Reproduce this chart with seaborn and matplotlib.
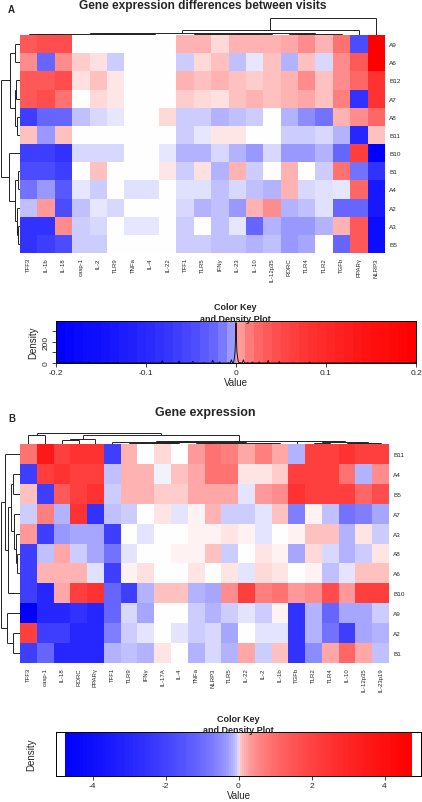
import numpy as np
import pandas as pd
import matplotlib
matplotlib.use("Agg")
import matplotlib.pyplot as plt
from matplotlib.colors import FuncNorm
from matplotlib.collections import LineCollection
import seaborn as sns

# ---------------- data ----------------
genes_a = ["TFF3", "IL-1b", "IL-18", "casp-1", "IL-2", "TLR9", "TNFa", "IL-4", "IL-22",
           "TFF1", "TLR5", "IFNγ", "IL-23", "IL-10", "IL-12p35", "RORC", "TLR4", "TLR2",
           "TGFb", "PPARγ", "NLRP3"]
samples_a = ["A9", "A6", "B12", "A7", "A8", "B11", "B10", "B1", "A4", "A2", "A3", "B5"]

row_a9 = [0.0357, 0.048, 0.048, 0, 0, 0, 0, 0, 0, 0.00162, 0.00162, 0.0001, 0.00162, 0.00162, 0.00162, 0.003, 0.0082, 0.00162, 0.0183, -0.048, 0.2]
row_a6 = [0.0082, -0.0259, 0.0082, 0.00032, 0.00004, -0.00032, 0, 0, 0, -0.00032, 0.0001, 0.00078, -0.00078, -0.00002, 0.00078, -0.00162, 0.00078, -0.0001, 0.0082, 0.0357, 0.2]
row_b12 = [0.0357, 0.0357, 0.048, 0.00004, 0.00078, 0.00002, 0, 0, 0, 0.00162, 0.00078, 0.00162, 0.00078, 0.00032, 0.00078, 0.00162, 0.0082, 0.00078, 0.0082, 0.0259, 0.0819]
row_a7 = [0.0357, 0.048, 0.0183, 0, 0.0001, 0.00002, 0, 0, 0, 0.00032, 0.0001, 0.00004, 0.00078, 0.00162, 0.00078, 0.00162, 0.003, 0.00078, 0.0125, -0.0819, 0.0819]
row_a8 = [-0.0633, -0.0259, -0.0259, -0.00078, -0.0001, -0.00002, 0, 0, 0.0001, -0.00032, -0.00032, -0.00162, -0.00078, -0.00032, 0, -0.00162, -0.0082, -0.0183, 0.00162, 0.0082, 0.0259]
row_b11 = [0.00078, -0.00512, 0.00078, 0, 0, 0, 0, 0, 0, -0.00032, -0.00002, 0.00002, 0.00002, 0, 0, -0.00032, -0.00032, -0.0001, -0.00162, -0.1044, 0.00078]
row_b10 = [-0.0633, -0.0633, -0.0819, -0.0001, -0.0001, -0.0001, 0, 0, -0.00002, -0.00162, -0.00162, -0.0001, -0.00162, -0.00512, -0.0001, -0.00512, -0.00512, -0.00162, -0.0259, 0.0633, -0.2]
row_b1 = [-0.048, -0.048, -0.0633, 0, 0.00078, 0, 0, 0, 0.00002, -0.00032, 0.00004, -0.00162, 0.00162, -0.00032, 0, 0.00162, 0, -0.00032, 0.0183, -0.0183, -0.0819]
row_a4 = [-0.0183, -0.00512, -0.0357, -0.00002, -0.00032, 0, -0.00004, -0.00004, 0, -0.00004, -0.00004, -0.00078, -0.0001, -0.00078, -0.00162, 0.00162, -0.0001, -0.00004, -0.00002, 0.0259, -0.1312]
row_a2 = [-0.00078, 0.00512, -0.048, -0.00078, -0.00002, -0.0001, 0, 0, 0, -0.0001, -0.00162, -0.00078, -0.00512, 0.00162, 0.0082, -0.00162, -0.00078, -0.00004, -0.0259, -0.0259, -0.1312]
row_a3 = [-0.0819, -0.0819, 0.0082, -0.00032, -0.0001, 0, -0.00002, -0.00002, 0, -0.00032, 0, -0.00078, -0.00002, -0.0259, -0.00162, -0.00512, -0.00512, -0.00162, 0.00162, 0.0357, -0.1629]
row_b5 = [-0.0819, -0.0633, -0.048, -0.00032, -0.00032, 0, 0, 0, 0, -0.00032, -0.00032, -0.00078, -0.00078, -0.00162, -0.00078, -0.00512, -0.003, 0, -0.0259, 0.0357, -0.1629]

genes_b = ["TFF3", "casp-1", "IL-18", "RORC", "PPARγ", "TFF1", "TLR9", "IFNγ", "IL-17A", "IL-4",
           "TNFa", "NLRP3", "TLR5", "IL-22", "IL-2", "IL-1b", "TGFb", "TLR2", "TLR4", "IL-10",
           "IL-12p35", "IL-23p19"]
samples_b = ["B11", "A4", "B5", "A7", "A3", "A8", "A6", "B10", "A9", "A2", "B1"]

rowb_b11 = [0.861, 3.515, 2.088, 2.511, 2.511, -2.088, 0.152, 0, 0.021, 0, 0.347, 0.861, 0.656, 0.237, 0.656, 0.237, -0.152, 2.088, 2.088, 2.511, 2.088, 2.088]
rowb_a4 = [-2.088, 2.088, 2.511, 2.088, 2.088, -0.090, 0.152, 0.152, -0.001, 0.090, 0.237, 0.861, 0.861, 0.007, 0.007, 0.048, 2.088, 2.088, 2.088, 0.861, -0.152, 0.485]
rowb_b5 = [0.090, -2.088, 1.387, 2.088, 2.511, -0.048, 0.152, 0.152, 0.048, 0.048, 0.237, 0.237, 0.237, -0.007, 0.347, 0.485, 2.511, 2.088, 2.088, 2.088, 1.104, 1.715]
rowb_a7 = [-0.048, 0.656, -0.152, 2.511, -2.511, -0.090, -0.048, 0, 0.007, -0.007, 0.001, 0.152, -0.048, -0.048, -0.007, 0.090, -0.656, 0.001, -0.090, -0.861, -0.656, -0.237]
rowb_a3 = [0.347, -2.088, -0.347, -0.237, -0.237, -2.088, 0, -0.007, 0, 0, 0.001, 0.001, 0.007, 0.001, -0.007, 0, 0.001, 0.090, 0.090, -0.152, 0.007, -0.048]
rowb_a8 = [-2.088, -0.090, 0.237, -0.048, -0.237, -0.861, -0.007, 0, 0, 0.001, 0.001, 0.090, -0.048, 0, 0.007, 0.001, -0.237, 0.021, -0.021, -0.152, -0.048, 0.007]
rowb_a6 = [-2.088, 0.152, 0.152, 0.152, -0.011, -2.088, 0.001, 0.011, 0, 0, 0.007, 0, 0.007, -0.007, 0.021, 0.007, 0, 0.001, -0.090, -0.007, 0.090, 0.090]
rowb_b10 = [-2.088, -2.986, 0.237, 2.088, 2.511, -1.104, -2.088, -0.152, 0.090, 0.090, -0.152, -0.237, 0.485, 2.088, 0.656, 0.861, 0.347, 0.485, 1.715, 0.347, 2.088, 2.088]
rowb_a9 = [-4.75, -2.986, -2.986, -2.511, -2.986, -1.104, -0.021, -0.237, 0, 0, -0.048, -0.152, -0.048, -0.007, -0.048, 0.001, -2.511, -0.152, -1.104, -0.237, -0.237, -0.048]
rowb_a2 = [2.088, -2.088, -2.088, -2.986, -2.986, -0.656, -0.048, -0.007, 0, -0.007, -0.048, -0.021, -0.237, 0, -0.007, -0.007, -2.511, -0.152, -0.861, -2.088, -0.237, -0.152]
rowb_b1 = [-2.088, -1.104, -2.986, -2.986, -2.986, -0.152, -0.090, -0.152, 0.007, 0, -0.152, -0.021, -0.152, 0.237, -0.048, 0.090, -2.511, -0.485, 0.237, 1.104, 0.237, -0.090]

# dendrogram merges: (child_a, child_b, height); leaves are 0..n-1 in display order
link_rows_a = [(0, 1, 5), (2, 3, 4), (4, 5, 3.5), (13, 14, 5.5), (12, 15, 10),
               (7, 8, 2.5), (10, 11, 2.5), (9, 18, 3.5), (17, 19, 5), (6, 20, 11), (16, 21, 19)]
link_cols_a = [(0, 1, 0.8), (21, 2, 1.1), (3, 4, 0.3), (23, 5, 0.5), (6, 7, 0.2), (25, 8, 0.4),
               (24, 26, 0.7), (22, 27, 1.5), (9, 10, 0.5), (29, 11, 0.8), (12, 13, 0.6),
               (31, 14, 0.9), (30, 32, 1.2), (15, 16, 0.7), (17, 18, 0.9), (34, 35, 1.3),
               (33, 36, 1.7), (28, 37, 2.0), (38, 19, 5.0), (39, 20, 16.7)]
link_rows_b = [(1, 2, 7), (5, 6, 3), (4, 12, 4.5), (3, 13, 6), (11, 14, 9), (15, 7, 12),
               (0, 16, 15), (9, 10, 7), (8, 18, 13), (17, 19, 19)]
link_cols_b = [(0, 1, 9.3), (2, 3, 4.0), (23, 4, 5.0), (6, 7, 1.0), (8, 9, 0.6), (25, 26, 1.3),
               (10, 11, 0.8), (12, 13, 0.9), (28, 29, 1.2), (14, 15, 1.0), (30, 31, 1.5),
               (27, 32, 1.8), (5, 33, 2.5), (17, 18, 1.3), (19, 20, 1.0), (36, 21, 1.5),
               (35, 37, 2.0), (16, 38, 3.0), (34, 39, 3.5), (24, 40, 9.0), (22, 41, 11.0)]

# ---------------- setup ----------------
sns.set_theme(style="white")
plt.rcParams['font.family'] = ['Liberation Sans', 'DejaVu Sans']

W, H = 422, 803
fig = plt.figure(figsize=(W / 100, H / 100), dpi=100)


def add_ax(l, t, w, h):
    return fig.add_axes([l / W, 1 - (t + h) / H, w / W, h / H])


def make_norm(lim, p):
    f = lambda x: np.sign(x) * np.abs(x) ** p
    finv = lambda y: np.sign(y) * np.abs(y) ** (1.0 / p)
    return FuncNorm((f, finv), vmin=-lim, vmax=lim)


def dendro_segments(n, links, horizontal):
    pos = {i: i + 0.5 for i in range(n)}
    ht = {i: 0.0 for i in range(n)}
    segs = []
    for k, (a, b, h) in enumerate(links):
        node = n + k
        s = [((pos[a], ht[a]), (pos[a], h)),
             ((pos[b], ht[b]), (pos[b], h)),
             ((pos[a], h), (pos[b], h))]
        if not horizontal:
            s = [((p0[1], p0[0]), (p1[1], p1[0])) for p0, p1 in s]
        segs.extend(s)
        pos[node] = (pos[a] + pos[b]) / 2
        ht[node] = h
    return segs


def draw_col_dendro(ax, n, links, hpx):
    ax.add_collection(LineCollection(dendro_segments(n, links, True), colors="#222222", linewidths=0.7))
    ax.set_xlim(0, n)
    ax.set_ylim(0, hpx)
    ax.axis("off")


def draw_row_dendro(ax, n, links, wpx):
    ax.add_collection(LineCollection(dendro_segments(n, links, False), colors="#222222", linewidths=0.7))
    ax.set_ylim(n, 0)
    ax.set_xlim(wpx, 0)
    ax.axis("off")


def draw_heat(ax, df, norm):
    sns.heatmap(df, ax=ax, cmap="bwr", norm=norm, cbar=False,
                xticklabels=True, yticklabels=True, linewidths=0)
    ax.yaxis.tick_right()
    ax.tick_params(axis="both", length=0)
    ax.tick_params(axis="y", pad=3, labelsize=4.6, labelrotation=0)
    ax.tick_params(axis="x", pad=3, labelsize=4.3, labelrotation=90)
    ax.set_xlabel("")
    ax.set_ylabel("")


# ---------------- panel A ----------------
mat_a = pd.DataFrame([row_a9, row_a6, row_b12, row_a7, row_a8, row_b11, row_b10, row_b1,
                      row_a4, row_a2, row_a3, row_b5], index=samples_a, columns=genes_a)
norm_a = make_norm(0.2, 0.25)

ax_ha = add_ax(20, 36, 365, 218)
draw_heat(ax_ha, mat_a, norm_a)
draw_row_dendro(add_ax(0, 36, 20, 218), len(samples_a), link_rows_a, 20)
draw_col_dendro(add_ax(20, 18, 365, 18), len(genes_a), link_cols_a, 18)

fig.text(8 / W, 1 - 10 / H, "A", fontsize=7, fontweight="bold", ha="left", va="center")
fig.text(203 / W, 1 - 6 / H, "Gene expression differences between visits", fontsize=8.6,
         fontweight="bold", ha="center", va="center")

# colour key A with density
ax_ka = add_ax(56, 322, 360, 42)
edges_a = np.linspace(-0.2, 0.2, 41)
centers_a = (edges_a[:-1] + edges_a[1:]) / 2
ax_ka.pcolormesh(edges_a, [0, 395], centers_a[None, :], cmap="bwr", norm=norm_a)
vals_a = mat_a.to_numpy().ravel()
sns.kdeplot(x=vals_a, ax=ax_ka, bw_adjust=0.04, gridsize=4000, color="black", linewidth=0.6)
ax_ka.set_xlim(-0.2, 0.2)
ax_ka.set_ylim(0, 395)
ax_ka.set_xticks([-0.2, -0.1, 0, 0.1, 0.2])
ax_ka.set_xticklabels(["-0.2", "-0.1", "0", "0.1", "0.2"])
ax_ka.set_yticks([0, 100, 200, 300])
ax_ka.set_yticklabels(["0", "", "200", ""], rotation=90, va="center")
ax_ka.tick_params(axis="both", direction="out", length=3, width=0.6, labelsize=6, pad=1.5,
                  bottom=True, left=True)
ax_ka.set_xlabel("Value", fontsize=7, labelpad=0.5)
ax_ka.set_ylabel("Density", fontsize=7, labelpad=3)
for s in ax_ka.spines.values():
    s.set_color("black")
    s.set_linewidth(0.7)
fig.text(235 / W, 1 - 308 / H, "Color Key", fontsize=6.5, fontweight="bold", ha="center", va="center")
fig.text(235 / W, 1 - 319 / H, "and Density Plot", fontsize=6.5, fontweight="bold", ha="center", va="center")

# ---------------- panel B ----------------
mat_b = pd.DataFrame([rowb_b11, rowb_a4, rowb_b5, rowb_a7, rowb_a3, rowb_a8, rowb_a6, rowb_b10,
                      rowb_a9, rowb_a2, rowb_b1], index=samples_b, columns=genes_b)
norm_b = make_norm(4.75, 0.35)

ax_hb = add_ax(20, 445, 369, 219)
draw_heat(ax_hb, mat_b, norm_b)
draw_row_dendro(add_ax(0, 445, 20, 219), len(samples_b), link_rows_b, 20)
draw_col_dendro(add_ax(20, 430, 369, 15), len(genes_b), link_cols_b, 15)

fig.text(8 / W, 1 - 419 / H, "B", fontsize=7, fontweight="bold", ha="left", va="center")
fig.text(205 / W, 1 - 413 / H, "Gene expression", fontsize=9, fontweight="bold",
         ha="center", va="center")

ax_kb = add_ax(56, 733, 365, 44)
edges_b = np.linspace(-4.75, 4.75, 191)
centers_b = (edges_b[:-1] + edges_b[1:]) / 2
ax_kb.pcolormesh(edges_b, [0, 1], centers_b[None, :], cmap="bwr", norm=norm_b)
ax_kb.set_xlim(-5.0, 5.0)
ax_kb.set_ylim(0, 1)
ax_kb.set_xticks([-4, -2, 0, 2, 4])
ax_kb.set_xticklabels(["-4", "-2", "0", "2", "4"])
ax_kb.set_yticks([])
ax_kb.tick_params(axis="x", direction="out", length=3, width=0.6, labelsize=6, pad=1.5, bottom=True)
ax_kb.set_xlabel("Value", fontsize=7, labelpad=0.5)
ax_kb.set_ylabel("Density", fontsize=7, labelpad=14)
for s in ax_kb.spines.values():
    s.set_color("black")
    s.set_linewidth(0.7)
fig.text(238 / W, 1 - 720 / H, "Color Key", fontsize=6.5, fontweight="bold", ha="center", va="center")
fig.text(238 / W, 1 - 731 / H, "and Density Plot", fontsize=6.5, fontweight="bold", ha="center", va="center")

fig.savefig("out.png", dpi=100)
